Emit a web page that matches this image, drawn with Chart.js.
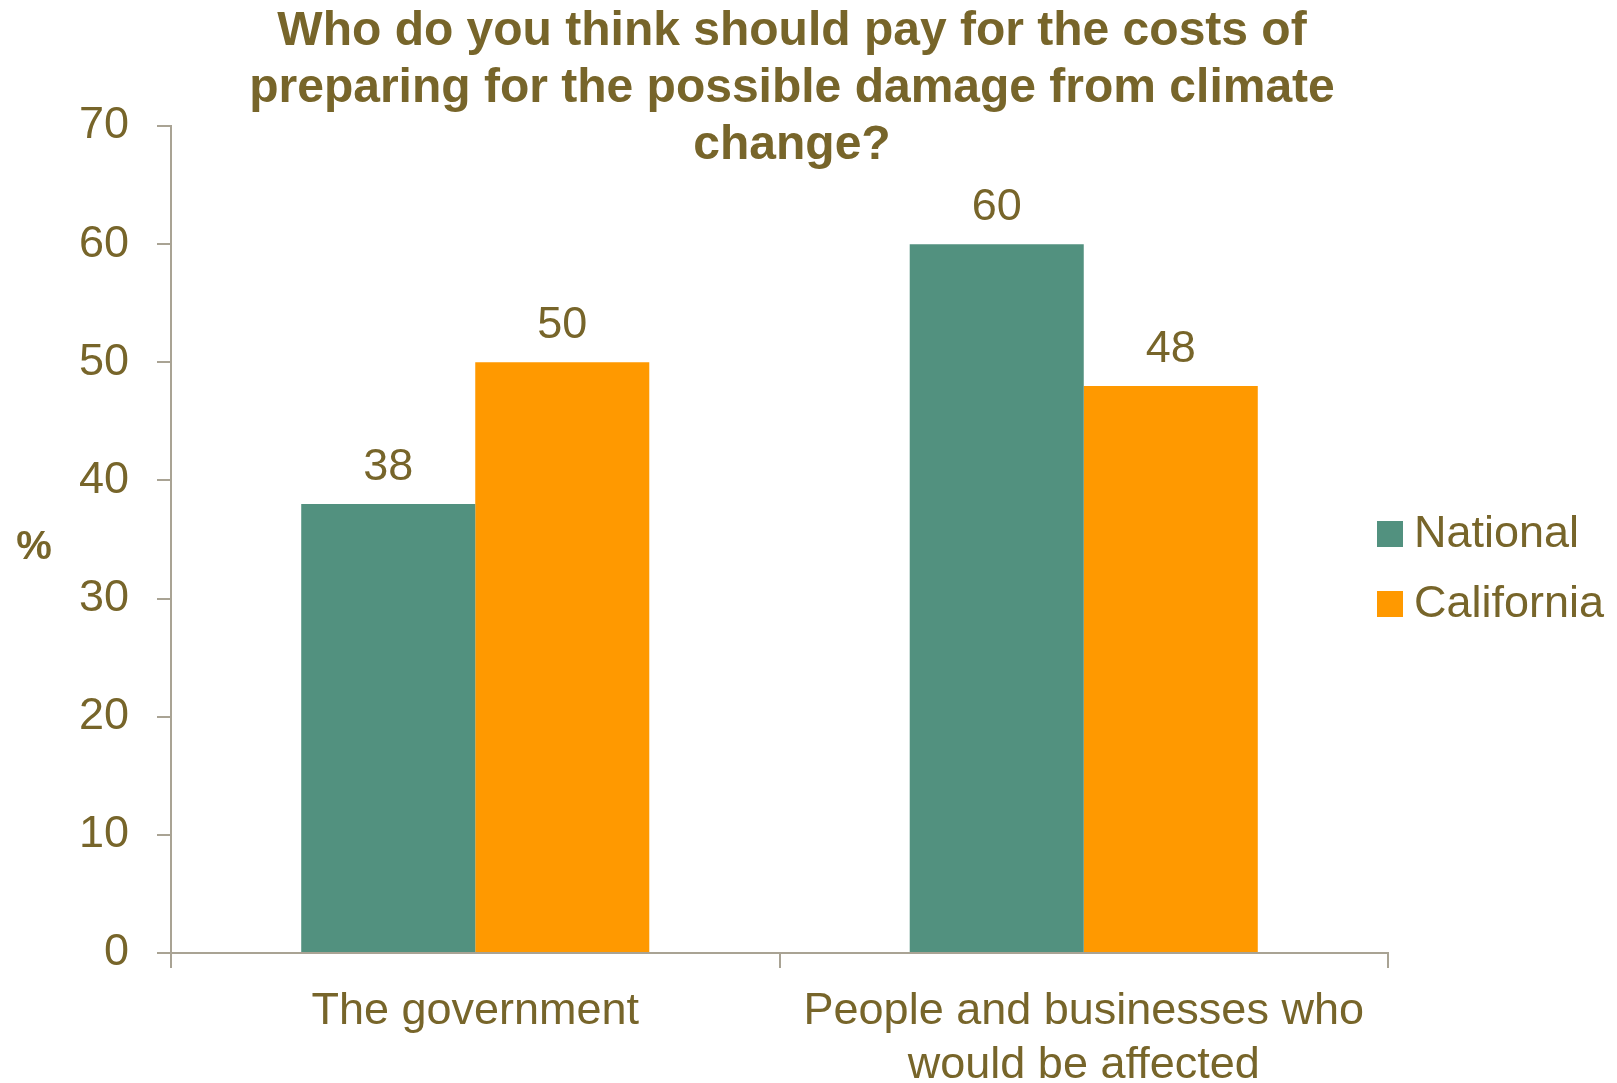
<!DOCTYPE html>
<html>
<head>
<meta charset="utf-8">
<script src="https://cdn.jsdelivr.net/npm/chart.js@4"></script>
<style>
  html, body { margin: 0; padding: 0; background: #fff; }
  #wrap { width: 1617px; height: 1083px; }
</style>
</head>
<body>
<div id="wrap"><canvas id="payChart" width="1617" height="1083"></canvas></div>
<script>
const titleLines = [
  "Who do you think should pay for the costs of",
  "preparing for the possible damage from climate",
  "change?",
];
const categories = [
  "The government",
  ["People and businesses who", "would be affected"],
];
const seriesNames = ["National", "California"];
const nationalValues = [38, 60];
const californiaValues = [50, 48];
const yTicks = [0, 10, 20, 30, 40, 50, 60, 70];

const textColor = "#77652A";
const axisColor = "#A9A394";
const barColors = ["#52917F", "#FF9900"];
const fontFamily = "'Liberation Sans', Arial, sans-serif";

// title, "%" label, value labels and legend drawn on top of the chart
const overlay = {
  id: "overlay",
  afterDraw(chart) {
    const ctx = chart.ctx;
    ctx.save();
    ctx.fillStyle = textColor;

    ctx.font = "bold 48px " + fontFamily;
    ctx.textAlign = "center";
    ctx.textBaseline = "middle";
    titleLines.forEach((line, i) => ctx.fillText(line, 792, 32 + i * 57));

    ctx.font = "bold 40px " + fontFamily;
    ctx.fillText("%", 34, 548);

    ctx.font = "45px " + fontFamily;
    ctx.textBaseline = "alphabetic";
    chart.data.datasets.forEach((ds, i) => {
      chart.getDatasetMeta(i).data.forEach((bar, j) => {
        ctx.fillText(String(ds.data[j]), bar.x, bar.y - 24);
      });
    });

    ctx.textAlign = "left";
    ctx.textBaseline = "middle";
    chart.data.datasets.forEach((ds, i) => {
      const cy = 534 + i * 70;
      ctx.fillStyle = ds.backgroundColor;
      ctx.fillRect(1377, cy - 13, 26, 26);
      ctx.fillStyle = textColor;
      ctx.fillText(ds.label, 1414, cy + 1);
    });
    ctx.restore();
  },
};

new Chart(document.getElementById("payChart"), {
  type: "bar",
  data: {
    labels: categories,
    datasets: [
      { label: seriesNames[0], data: nationalValues, backgroundColor: barColors[0] },
      { label: seriesNames[1], data: californiaValues, backgroundColor: barColors[1] },
    ],
  },
  options: {
    responsive: false,
    animation: false,
    layout: { padding: { top: 126, right: 229, bottom: 0, left: 0 } },
    datasets: {
      bar: { categoryPercentage: 0.572, barPercentage: 1 },
    },
    plugins: {
      legend: { display: false },
      tooltip: { enabled: false },
    },
    scales: {
      x: {
        afterFit(scale) { scale.height = 130; },
        grid: {
          drawOnChartArea: false,
          drawTicks: true,
          tickLength: 15,
          color: axisColor,
          lineWidth: 2,
        },
        border: { color: axisColor, width: 2 },
        ticks: {
          color: textColor,
          padding: 17,
          font: { family: fontFamily, size: 45, lineHeight: 1.2 },
        },
      },
      y: {
        min: 0,
        max: 70,
        afterFit(scale) { scale.width = 171; },
        afterBuildTicks(scale) { scale.ticks = yTicks.map((v) => ({ value: v })); },
        grid: {
          drawOnChartArea: false,
          drawTicks: true,
          tickLength: 14,
          color: axisColor,
          lineWidth: 2,
        },
        border: { color: axisColor, width: 2 },
        ticks: {
          color: textColor,
          padding: 28,
          font: { family: fontFamily, size: 45 },
        },
      },
    },
  },
  plugins: [overlay],
});
</script>
</body>
</html>
